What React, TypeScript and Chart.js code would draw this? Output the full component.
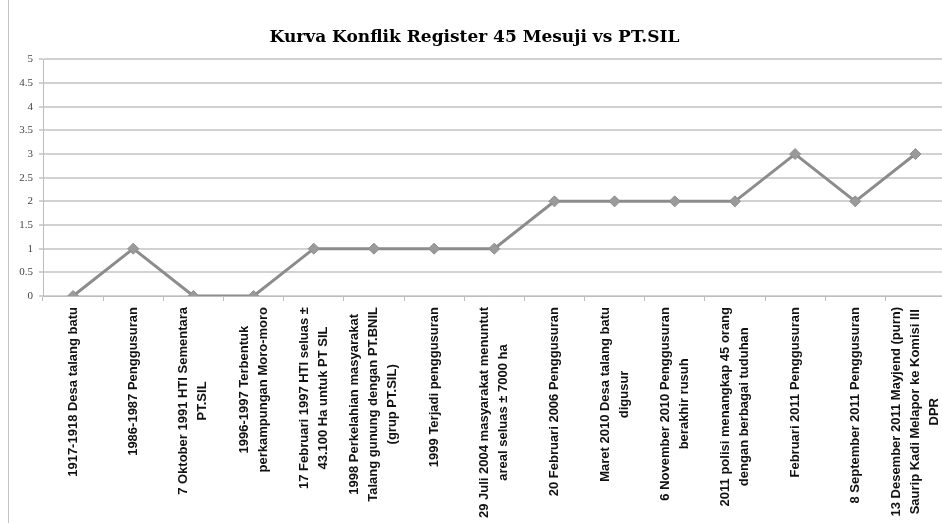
import React, { useEffect, useRef } from "react";
import { Chart, registerables } from "chart.js";

Chart.register(...registerables);

const chartTitle = "Kurva Konflik Register 45 Mesuji vs PT.SIL";

const categories: string[][] = [
  ["1917-1918 Desa talang batu"],
  ["1986-1987 Penggusuran"],
  ["7 Oktober 1991 HTI Sementara", "PT.SIL"],
  ["1996-1997 Terbentuk", "perkampungan Moro-moro"],
  ["17 Februari 1997 HTI seluas ±", "43.100 Ha untuk PT SIL"],
  ["1998 Perkelahian masyarakat", "Talang gunung dengan PT.BNIL", "(grup PT.SIL)"],
  ["1999 Terjadi penggusuran"],
  ["29 Juli 2004 masyarakat menuntut", "areal seluas ± 7000 ha"],
  ["20 Februari 2006 Penggusuran"],
  ["Maret 2010 Desa talang batu", "digusur"],
  ["6 November 2010 Penggusuran", "berakhir rusuh"],
  ["2011 polisi menangkap 45 orang", "dengan berbagai tuduhan"],
  ["Februari 2011 Penggusuran"],
  ["8 September 2011 Penggusuran"],
  ["13 Desember 2011 Mayjend (purn)", "Saurip Kadi Melapor ke Komisi III", "DPR"],
];

const conflictLevel: number[] = [0, 1, 0, 0, 1, 1, 1, 1, 2, 2, 2, 2, 3, 2, 3];

const yMin = 0;
const yMax = 5;
const yStep = 0.5;

const LABEL_FONT = "bold 13px 'Liberation Sans', Arial, sans-serif";
const LABEL_LINE = 19;
const LABEL_TOP_GAP = 11;

const rotatedLabels = {
  id: "rotatedLabels",
  afterDraw(chart: any) {
    const ctx = chart.ctx;
    const xs = chart.scales.x;
    const top = chart.chartArea.bottom + LABEL_TOP_GAP;
    ctx.save();
    ctx.font = LABEL_FONT;
    ctx.fillStyle = "#111";
    ctx.textAlign = "center";
    ctx.textBaseline = "middle";
    categories.forEach((lines, i) => {
      const cx = xs.getPixelForValue(i);
      const maxW = Math.max(...lines.map((l) => ctx.measureText(l).width));
      const n = lines.length;
      lines.forEach((line, j) => {
        const lx = cx - ((n - 1) * LABEL_LINE) / 2 + j * LABEL_LINE;
        ctx.save();
        ctx.translate(lx, top + maxW / 2);
        ctx.rotate(-Math.PI / 2);
        ctx.fillText(line, 0, 0);
        ctx.restore();
      });
    });
    ctx.restore();
  },
};

export default function App() {
  const canvasRef = useRef<HTMLCanvasElement | null>(null);

  useEffect(() => {
    const canvas = canvasRef.current;
    if (!canvas) return;
    const chart = new Chart(canvas, {
      type: "line",
      data: {
        labels: categories.map((c) => c.join(" ")),
        datasets: [
          {
            data: conflictLevel,
            borderColor: "#8c8c8c",
            borderWidth: 3,
            backgroundColor: "#9a9a9a",
            pointStyle: "rectRot",
            pointRadius: 5.5,
            pointBorderColor: "#8c8c8c",
            pointBorderWidth: 1,
            tension: 0,
          },
        ],
      },
      options: {
        animation: false,
        responsive: false,
        devicePixelRatio: 1,
        layout: { padding: { left: 0, right: 3, top: 0, bottom: 0 } },
        plugins: {
          legend: { display: false },
          tooltip: { enabled: false },
          title: {
            display: true,
            text: chartTitle,
            color: "#000",
            font: { family: "'DejaVu Serif', serif", size: 17, weight: "bold", lineHeight: 1.2 },
            padding: { top: 27, bottom: 12 },
          },
        },
        scales: {
          x: {
            type: "category",
            offset: true,
            grid: {
              offset: true,
              drawOnChartArea: false,
              drawTicks: true,
              tickLength: 5,
              color: "#bdbdbd",
            },
            border: { color: "#bdbdbd", width: 1 },
            ticks: { display: false },
            afterFit: (s: any) => {
              s.height = 227;
            },
          },
          y: {
            min: yMin,
            max: yMax,
            ticks: {
              stepSize: yStep,
              color: "#444",
              padding: 6,
              font: { family: "'Liberation Serif', serif", size: 11 },
              callback: (v: any) => String(Number(v)),
            },
            grid: { color: "#d2d2d2", lineWidth: 2, tickLength: 4 },
            border: { color: "#bdbdbd", width: 1 },
            afterFit: (s: any) => {
              s.width = 43;
            },
          },
        },
      },
      plugins: [rotatedLabels],
    });
    return () => chart.destroy();
  }, []);

  return (
    <div
      style={{
        position: "fixed",
        left: 0,
        top: 0,
        width: 942,
        height: 523,
        overflow: "hidden",
        background: "#fff",
      }}
    >
      <canvas ref={canvasRef} width={952} height={523} style={{ display: "block", width: 952, height: 523 }} />
      <div
        style={{
          position: "absolute",
          left: 8,
          top: 0,
          width: 0,
          height: 523,
          borderLeft: "1px solid #c4c4c4",
        }}
      />
    </div>
  );
}
